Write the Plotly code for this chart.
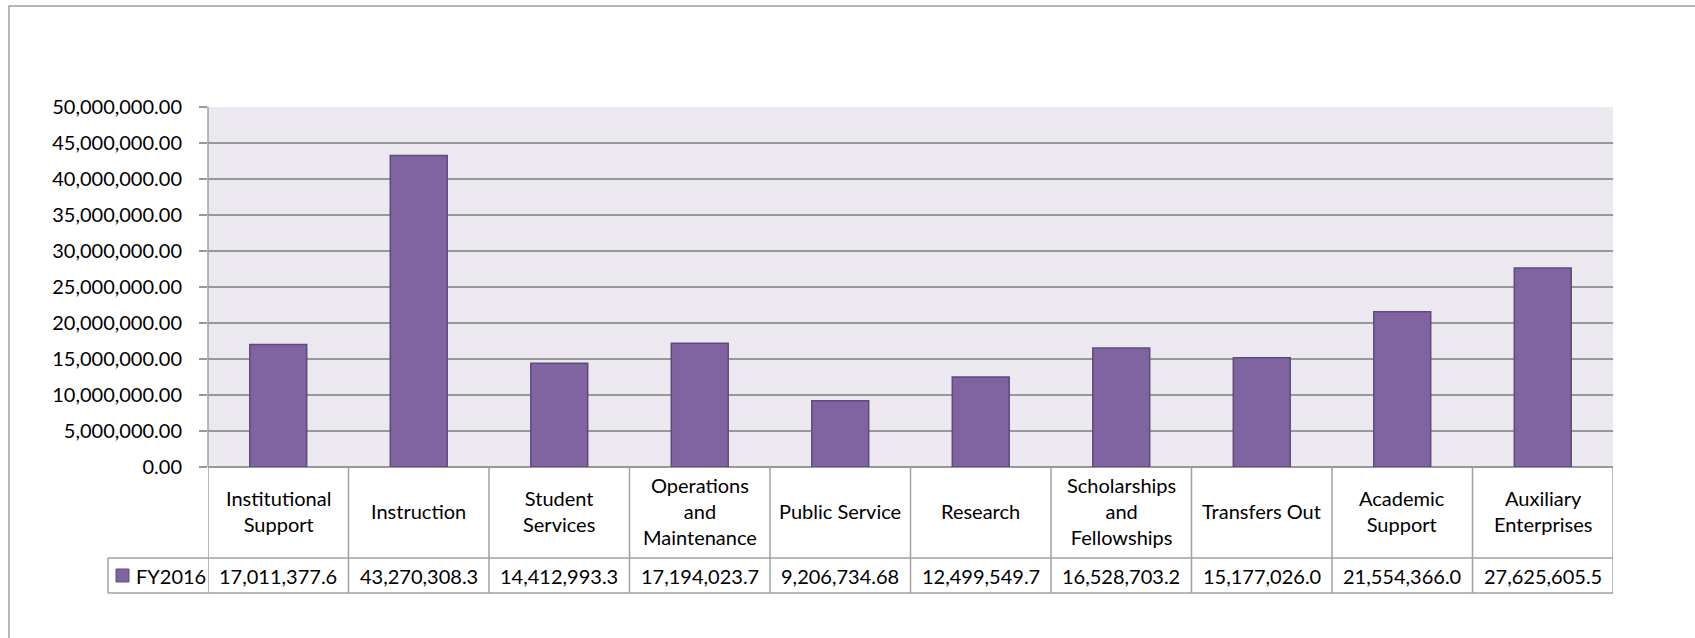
import plotly.graph_objects as go

categories = ["Institutional<br>Support", "Instruction", "Student<br>Services",
              "Operations<br>and<br>Maintenance", "Public Service", "Research",
              "Scholarships<br>and<br>Fellowships", "Transfers Out",
              "Academic<br>Support", "Auxiliary<br>Enterprises"]
values = [17011377.6, 43270308.3, 14412993.3, 17194023.7, 9206734.68,
          12499549.7, 16528703.2, 15177026.0, 21554366.0, 27625605.5]
series_name = "FY2016"
y_ticks = [0, 5e6, 10e6, 15e6, 20e6, 25e6, 30e6, 35e6, 40e6, 45e6, 50e6]

BAR = "#8064A2"
BAR_LINE = "#5E4A7C"
GRID = "#989898"
BORDER = "#A0A0A0"
FONT = "Lato"
FS = 20

W, H = 1695, 638
L, R, T, B = 208, 82, 107, 171
PW, PH = W - L - R, H - T - B


def px_x(px):
    return (px - L) / PW


def px_y(py):
    return (H - B - py) / PH


def fmt(v):
    ip = len(str(int(abs(v))))
    d = max(0, 9 - ip)
    return f"{v:,.{d}f}"


n = len(categories)
xs = list(range(n))

fig = go.Figure(go.Bar(
    x=xs, y=values, name=series_name, width=0.405,
    marker=dict(color=BAR, line=dict(color=BAR_LINE, width=1.5)),
    showlegend=False,
))

shapes = []
# outer chart border (left and top visible)
shapes.append(dict(type="rect", xref="paper", yref="paper",
                   x0=px_x(9), x1=px_x(1710), y0=px_y(650), y1=px_y(6),
                   line=dict(color=BORDER, width=1.5), layer="below"))
row1 = px_y(558)
row2 = px_y(593)
# table horizontal lines
shapes.append(dict(type="line", xref="x", yref="paper", x0=-0.5, x1=n - 0.5,
                   y0=row1, y1=row1, line=dict(color=BORDER, width=1.5)))
shapes.append(dict(type="line", xref="x", yref="paper", x0=-0.5, x1=n - 0.5,
                   y0=row2, y1=row2, line=dict(color=BORDER, width=1.5)))
# legend cell
shapes.append(dict(type="line", xref="paper", yref="paper", x0=px_x(108), x1=0,
                   y0=row1, y1=row1, line=dict(color=BORDER, width=1.5)))
shapes.append(dict(type="line", xref="paper", yref="paper", x0=px_x(108), x1=0,
                   y0=row2, y1=row2, line=dict(color=BORDER, width=1.5)))
shapes.append(dict(type="line", xref="paper", yref="paper", x0=px_x(108), x1=px_x(108),
                   y0=row1, y1=row2, line=dict(color=BORDER, width=1.5)))
# table vertical lines
for k in range(n + 1):
    shapes.append(dict(type="line", xref="x", yref="paper", x0=k - 0.5, x1=k - 0.5,
                       y0=0, y1=row2, line=dict(color=BORDER, width=1.5)))
# left axis line across plot
shapes.append(dict(type="line", xref="paper", yref="paper", x0=0, x1=0,
                   y0=0, y1=1, line=dict(color=BORDER, width=1.5)))
# legend key
shapes.append(dict(type="rect", xref="paper", yref="paper",
                   x0=px_x(116), x1=px_x(129), y0=px_y(582), y1=px_y(569),
                   fillcolor=BAR, line=dict(color=BAR_LINE, width=1)))

annotations = []
for i, c in enumerate(categories):
    annotations.append(dict(x=i, y=px_y(511), xref="x", yref="paper", text=c,
                            showarrow=False, align="center", yanchor="middle",
                            font=dict(family=FONT, size=FS, color="#000000")))
    annotations.append(dict(x=i, y=px_y(575.5), xref="x", yref="paper", text=fmt(values[i]),
                            showarrow=False, yanchor="middle",
                            font=dict(family=FONT, size=FS, color="#000000")))
annotations.append(dict(x=px_x(134), y=px_y(575.5), xref="paper", yref="paper",
                        text=series_name, showarrow=False, xanchor="left", yanchor="middle",
                        font=dict(family=FONT, size=FS, color="#000000")))

fig.update_layout(
    width=W, height=H,
    margin=dict(l=L, r=R, t=T, b=B, pad=0),
    paper_bgcolor="#FFFFFF",
    plot_bgcolor="#EBE9EF",
    font=dict(family=FONT, size=FS, color="#000000"),
    shapes=shapes,
    annotations=annotations,
    xaxis=dict(range=[-0.5, n - 0.5], showticklabels=False, showgrid=False,
               zeroline=False, showline=False, ticks="", fixedrange=True),
    yaxis=dict(range=[0, 50e6], tickvals=y_ticks, tickformat=",.2f",
               showgrid=True, gridcolor=GRID, gridwidth=1.5,
               zeroline=True, zerolinecolor=GRID, zerolinewidth=1.5,
               showline=False, ticks="outside", ticklen=8, tickcolor=GRID,
               tickwidth=1.5, ticklabelstandoff=13,
               tickfont=dict(family=FONT, size=FS, color="#000000")),
)

fig.write_html("out.html", config={"displayModeBar": False},
               post_script="document.body.style.margin='0';document.body.style.overflow='hidden';")
